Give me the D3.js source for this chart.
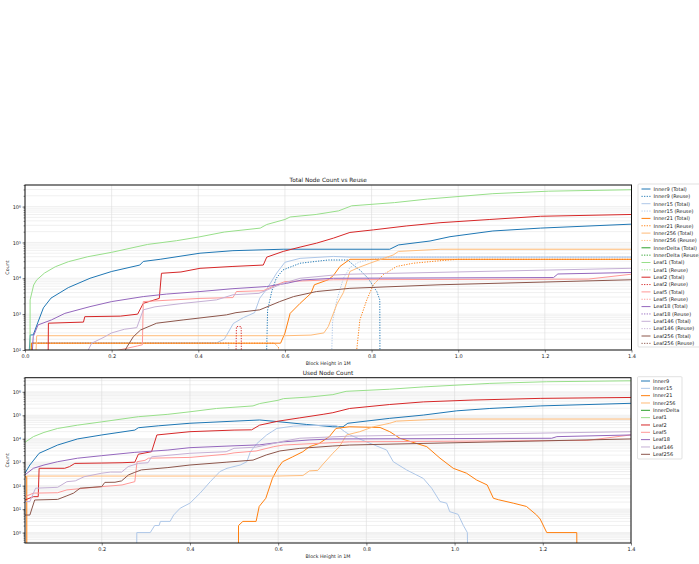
<!DOCTYPE html>
<html>
<head>
<meta charset="utf-8">
<script src="https://cdn.jsdelivr.net/npm/d3@7"></script>
<style>
body { margin: 0; background: #fff; }
text { font-family: "DejaVu Sans", sans-serif; fill: #222; }
</style>
</head>
<body>
<svg id="chart" width="699" height="564"></svg>
<script>
/*=================
=== The data
=================*/
var names = ['Inner9', 'Inner15', 'Inner21', 'Inner256', 'InnerDelta', 'Leaf1', 'Leaf2', 'Leaf5', 'Leaf18', 'Leaf146', 'Leaf256'];
var colors = ['#1f77b4', '#aec7e8', '#ff7f0e', '#ffbb78', '#2ca02c', '#98df8a', '#d62728', '#ff9896', '#9467bd', '#c5b0d5', '#8c564b'];

var topXTicks = [0, 0.2, 0.4, 0.6, 0.8, 1.0, 1.2, 1.4];
var bottomXTicks = [0.2, 0.4, 0.6, 0.8, 1.0, 1.2, 1.4];
var topYTicks = [1e2, 1e3, 1e4, 1e5, 1e6];
var bottomYTicks = [1e0, 1e1, 1e2, 1e3, 1e4, 1e5, 1e6];

// [block height in 1M, count]  -- top chart, totals
var inner9Total = [[0.005,10],[0.012,263],[0.019,263],[0.03,600],[0.0425,1500],[0.06,2800],[0.1,5500],[0.15,10000],[0.2,15500],[0.265,23400],[0.273,29500],[0.312,33900],[0.404,50100],[0.48,58900],[0.596,64600],[0.842,64600],[0.862,85100],[0.935,109600],[0.981,144500],[1.08,208900],[1.19,251200],[1.4,323600]];
var inner15Total = [[0.012,10],[0.015,158],[0.442,158],[0.46,200],[0.481,550],[0.504,800],[0.53,1100],[0.542,2800],[0.558,5000],[0.581,14000],[0.6,28000],[0.635,36000],[0.712,40700],[0.75,39000],[1.4,39000]];
var inner21Total = [[0.012,10],[0.015,155],[0.59,155],[0.6,295],[0.612,1050],[0.635,2000],[0.66,3800],[0.668,6600],[0.7,9100],[0.712,12000],[0.727,21400],[0.75,33900],[1.4,33900]];
var inner256Total = [[0.022,10],[0.027,250],[0.6,250],[0.66,260],[0.69,300],[0.70,450],[0.72,1900],[0.735,4000],[0.75,15500],[0.77,20000],[0.796,26300],[0.85,44700],[0.862,56200],[0.96,64600],[1.4,64600]];
var innerDeltaTotal = [];
var leaf1Total = [[0.0115,10],[0.0118,2500],[0.02,6500],[0.027,9000],[0.045,14000],[0.07,21000],[0.1,29000],[0.145,40000],[0.2,53000],[0.283,88000],[0.35,112000],[0.4,141000],[0.46,195000],[0.543,251000],[0.558,316000],[0.6,437000],[0.612,513000],[0.672,603000],[0.724,760000],[0.754,1050000],[0.853,1290000],[0.929,1620000],[1.08,2290000],[1.209,2690000],[1.4,2950000]];
var leaf2Total = [[0.053,10],[0.054,560],[0.135,600],[0.138,850],[0.22,880],[0.26,1000],[0.273,2000],[0.31,2750],[0.315,13800],[0.36,15000],[0.404,19000],[0.48,21400],[0.55,23400],[0.558,38900],[0.596,56200],[0.635,74100],[0.673,95500],[0.712,131800],[0.75,190000],[0.804,224000],[0.88,288000],[0.958,355000],[1.073,437000],[1.19,537000],[1.4,603000]];
var leaf5Total = [[0.02,30],[0.2,90],[0.26,130],[0.271,140],[0.273,2240],[0.404,2750],[0.48,2900],[0.488,4270],[0.55,4500],[0.581,6600],[0.6,8100],[0.712,9100],[1.3,9500],[1.4,13000]];
var leaf18Total = [[0.012,10],[0.019,234],[0.03,500],[0.061,690],[0.092,1050],[0.15,1620],[0.2,2240],[0.273,3090],[0.327,3630],[0.404,4270],[0.48,5130],[0.558,5890],[0.604,7240],[0.64,9000],[0.712,10000],[1.22,10500],[1.23,13200],[1.4,14500]];
var leaf146Total = [[0.104,10],[0.154,155],[0.18,220],[0.2,300],[0.23,380],[0.258,420],[0.273,1320],[0.3,1600],[0.365,2000],[0.442,2500],[0.48,3470],[0.54,3800],[0.596,7240],[0.635,10000],[0.712,12300],[0.75,13000],[1.4,19000]];
var leaf256Total = [[0.19,10],[0.235,120],[0.25,234],[0.267,363],[0.304,560],[0.365,690],[0.465,955],[0.487,1100],[0.542,1320],[0.588,2240],[0.62,3090],[0.673,4270],[0.75,5250],[0.958,6600],[1.4,9100]];

// top chart, reuse
var inner9Reuse = [[0.556,10],[0.56,1300],[0.57,4500],[0.58,10000],[0.595,17000],[0.635,26300],[0.70,32400],[0.745,32400],[0.758,23400],[0.773,17000],[0.792,10000],[0.812,4270],[0.819,2510],[0.8195,10]];
var inner15Reuse = [[0.012,10],[0.015,158],[0.47,158],[0.472,10],[0.706,10],[0.71,630],[0.72,2500],[0.735,10000],[0.75,20000],[0.77,28000],[0.8,34000],[0.85,38900],[1.4,38900]];
var inner21Reuse = [[0.012,10],[0.015,155],[0.575,155],[0.585,120],[0.59,10],[0.757,10],[0.773,690],[0.789,2500],[0.804,6600],[0.827,12600],[0.858,21400],[0.896,26300],[0.958,30900],[1.0,33900],[1.4,33900]];
var inner256Reuse = [];
var innerDeltaReuse = [];
var leaf1Reuse = [];
var leaf2Reuse = [[0.486,10],[0.488,450],[0.499,450],[0.5,10]];
var leaf5Reuse = [];
var leaf18Reuse = [];
var leaf146Reuse = [];
var leaf256Reuse = [];

// bottom chart, used
var inner9Used = [[0.026,340],[0.037,760],[0.058,2400],[0.1,5400],[0.145,9800],[0.2,14500],[0.275,23400],[0.283,29500],[0.328,35500],[0.4,45700],[0.5,56200],[0.558,63100],[0.604,52500],[0.664,40700],[0.724,32400],[0.747,32400],[0.758,45700],[0.853,74100],[0.929,102000],[1.005,155000],[1.08,195000],[1.194,251000],[1.4,324000]];
var inner15Used = [[0.279,0.01],[0.2795,1],[0.31,1],[0.32,2],[0.33,2],[0.333,3],[0.355,3],[0.363,5.6],[0.378,11],[0.4,18],[0.423,48],[0.446,148],[0.468,400],[0.484,550],[0.514,760],[0.529,1050],[0.537,2800],[0.552,6300],[0.574,14500],[0.597,27500],[0.635,34700],[0.71,38000],[0.733,36000],[0.751,20000],[0.763,14500],[0.8,7400],[0.846,3300],[0.861,1050],[0.891,470],[0.929,204],[0.948,78],[0.967,21],[0.982,18],[0.989,7.8],[1.008,6],[1.02,2],[1.029,1],[1.03,0.01]];
var inner21Used = [[0.026,250],[0.03,250],[0.0301,0.01],[0.51,0.01],[0.5101,2],[0.52,3],[0.55,3],[0.557,13],[0.572,29],[0.587,204],[0.599,550],[0.61,1050],[0.633,1700],[0.656,2800],[0.671,4600],[0.693,6300],[0.716,12300],[0.731,27500],[0.761,32400],[0.831,30200],[0.853,20000],[0.876,10500],[0.937,4600],[0.967,1480],[0.997,550],[1.027,340],[1.05,174],[1.074,107],[1.088,29],[1.1,25],[1.133,18],[1.163,13],[1.186,5.6],[1.194,3.8],[1.209,1],[1.277,1],[1.278,0.01]];
var inner256Used = [[0.026,204],[0.03,257],[0.596,257],[0.656,270],[0.671,427],[0.69,450],[0.70,760],[0.724,2400],[0.739,4600],[0.755,14500],[0.785,20000],[0.816,32400],[0.853,45700],[0.868,56200],[0.967,69200],[1.4,69200]];
var innerDeltaUsed = [];
var leaf1Used = [[0.026,7080],[0.045,12300],[0.069,18600],[0.1,27500],[0.145,38000],[0.2,52500],[0.283,87100],[0.35,110000],[0.4,141000],[0.46,195000],[0.543,251000],[0.558,316000],[0.6,437000],[0.612,513000],[0.672,603000],[0.724,759000],[0.754,1050000],[0.853,1290000],[0.929,1620000],[1.08,2290000],[1.209,2690000],[1.4,2950000]];
var leaf2Used = [[0.026,24.5],[0.045,34],[0.056,34],[0.058,550],[0.116,550],[0.127,650],[0.139,890],[0.2,920],[0.246,950],[0.275,1000],[0.283,2190],[0.313,2800],[0.325,14500],[0.4,20000],[0.5,23400],[0.54,24000],[0.558,38000],[0.6,56200],[0.649,77600],[0.702,110000],[0.724,129000],[0.762,195000],[0.853,288000],[0.929,372000],[1.042,447000],[1.194,525000],[1.4,575000]];
var leaf5Used = [[0.026,34],[0.045,48],[0.1,50],[0.121,66],[0.2,91],[0.246,107],[0.275,148],[0.28,1050],[0.298,1200],[0.306,1480],[0.4,1600],[0.482,2190],[0.5,2500],[0.55,3000],[0.59,4600],[0.612,5400],[0.762,7400],[1.3,8500],[1.4,14500]];
var leaf18Used = [[0.026,290],[0.045,550],[0.069,760],[0.1,1050],[0.145,1480],[0.2,1900],[0.275,2630],[0.35,3300],[0.4,4170],[0.5,5000],[0.558,5500],[0.612,7400],[0.672,8900],[0.724,9800],[1.22,10500],[1.232,12300],[1.4,14500]];
var leaf146Used = [[0.026,21],[0.037,21],[0.05,78],[0.1,85],[0.121,148],[0.14,160],[0.16,240],[0.2,340],[0.22,380],[0.245,380],[0.26,650],[0.283,890],[0.305,950],[0.313,1700],[0.4,2400],[0.482,2800],[0.5,3900],[0.55,4400],[0.59,6300],[0.612,7900],[0.649,10500],[0.762,12900],[1.4,20000]];
var leaf256Used = [[0.026,5.6],[0.037,5.6],[0.048,24.5],[0.1,26],[0.121,37],[0.136,48],[0.151,78],[0.2,91],[0.207,138],[0.23,140],[0.245,160],[0.261,290],[0.275,370],[0.29,470],[0.35,590],[0.4,760],[0.482,1000],[0.543,1230],[0.573,2040],[0.604,3020],[0.649,3890],[0.724,4900],[0.762,5400],[1.4,9800]];

var totals = [inner9Total, inner15Total, inner21Total, inner256Total, innerDeltaTotal, leaf1Total, leaf2Total, leaf5Total, leaf18Total, leaf146Total, leaf256Total];
var reuses = [inner9Reuse, inner15Reuse, inner21Reuse, inner256Reuse, innerDeltaReuse, leaf1Reuse, leaf2Reuse, leaf5Reuse, leaf18Reuse, leaf146Reuse, leaf256Reuse];
var useds = [inner9Used, inner15Used, inner21Used, inner256Used, innerDeltaUsed, leaf1Used, leaf2Used, leaf5Used, leaf18Used, leaf146Used, leaf256Used];

/*=================
=== The vars
=================*/
var svg = d3.select('#chart');
var DOTS = '1.2,1.4';
var sup = { '0': '\u2070', '1': '\u00b9', '2': '\u00b2', '3': '\u00b3', '4': '\u2074', '5': '\u2075', '6': '\u2076' };

function drawPanel(cfg) {
	var x = cfg.x, y = cfg.y;
	var L = x.range()[0], R = x.range()[1];
	var B = y.range()[0], T = y.range()[1];
	var g = svg.append('g');

	g.append('clipPath').attr('id', cfg.id)
		.append('rect').attr('x', L).attr('y', T).attr('width', R - L).attr('height', B - T);

	// minor log grid
	var minors = [];
	var lo = Math.floor(Math.log10(y.domain()[0])), hi = Math.ceil(Math.log10(y.domain()[1]));
	for (var k = lo; k <= hi; k++) {
		for (var m = 1; m <= 9; m++) {
			var v = m * Math.pow(10, k);
			if (v >= y.domain()[0] && v <= y.domain()[1]) minors.push(v);
		}
	}
	g.append('g').selectAll('line').data(minors).join('line')
		.attr('x1', L).attr('x2', R)
		.attr('y1', function (d) { return y(d); }).attr('y2', function (d) { return y(d); })
		.attr('stroke', '#e6e6e6').attr('stroke-width', 0.6);

	g.append('g').selectAll('line').data(cfg.xTicks).join('line')
		.attr('x1', function (d) { return x(d); }).attr('x2', function (d) { return x(d); })
		.attr('y1', T).attr('y2', B)
		.attr('stroke', '#dcdcdc').attr('stroke-width', 0.6);

	var line = d3.line()
		.x(function (d) { return x(d[0]); })
		.y(function (d) { return y(Math.max(d[1], 1e-3)); });

	var plot = g.append('g').attr('clip-path', 'url(#' + cfg.id + ')');
	cfg.series.forEach(function (s) {
		if (!s.data.length) return;
		plot.append('path')
			.datum(s.data)
			.attr('d', line)
			.attr('fill', 'none')
			.attr('stroke', s.color)
			.attr('stroke-width', 1)
			.attr('stroke-dasharray', s.dash ? DOTS : null);
	});

	// axes
	var xAxis = g.append('g').attr('transform', 'translate(0,' + B + ')')
		.call(d3.axisBottom(x).tickValues(cfg.xTicks).tickFormat(d3.format('.1f')).tickSize(2.5).tickPadding(1.5));
	var yMinor = g.append('g').attr('transform', 'translate(' + L + ',0)')
		.call(d3.axisLeft(y).tickValues(minors).tickFormat('').tickSize(1.4));
	var yAxis = g.append('g').attr('transform', 'translate(' + L + ',0)')
		.call(d3.axisLeft(y).tickValues(cfg.yTicks).tickSize(2.5).tickPadding(1.5)
			.tickFormat(function (d) { return '10' + sup[String(Math.round(Math.log10(d)))]; }));
	[xAxis, yMinor, yAxis].forEach(function (a) {
		a.select('.domain').remove();
		a.selectAll('line').attr('stroke', '#333').attr('stroke-width', 0.6);
		a.selectAll('text').attr('font-size', 5).attr('fill', '#333').style('font-family', 'DejaVu Sans');
	});

	g.append('rect').attr('x', L).attr('y', T).attr('width', R - L).attr('height', B - T)
		.attr('fill', 'none').attr('stroke', '#111').attr('stroke-width', 1);

	g.append('text').attr('x', (L + R) / 2).attr('y', T - 3).attr('text-anchor', 'middle')
		.attr('font-size', 5.8).text(cfg.title);
	g.append('text').attr('x', (L + R) / 2).attr('y', B + 15).attr('text-anchor', 'middle')
		.attr('font-size', 4.8).text('Block Height in 1M');
	g.append('text').attr('transform', 'translate(9,' + ((T + B) / 2) + ') rotate(-90)')
		.attr('text-anchor', 'middle').attr('font-size', 4.8).text('Count');

	// legend
	var lg = g.append('g');
	lg.append('rect').attr('x', cfg.legend.x).attr('y', cfg.legend.y)
		.attr('width', cfg.legend.w).attr('height', cfg.legend.h)
		.attr('fill', '#fff').attr('stroke', '#cfcfcf').attr('stroke-width', 0.6).attr('rx', 1);
	cfg.legendItems.forEach(function (it, i) {
		var yy = cfg.legend.y0 + i * cfg.legend.step;
		lg.append('line').attr('x1', cfg.legend.x + 3.5).attr('x2', cfg.legend.x + 12.5)
			.attr('y1', yy).attr('y2', yy)
			.attr('stroke', it.color).attr('stroke-width', 1)
			.attr('stroke-dasharray', it.dash ? DOTS : null);
		lg.append('text').attr('x', cfg.legend.x + 15.5).attr('y', yy + 1.8)
			.attr('font-size', 5).attr('fill', '#333').text(it.label);
	});
}

/*=================
=== Top: Total vs Reuse
=================*/
var topSeries = [], topLegend = [];
names.forEach(function (n, i) {
	topSeries.push({ data: totals[i], color: colors[i], dash: false });
	topSeries.push({ data: reuses[i], color: colors[i], dash: true });
	topLegend.push({ label: n + ' (Total)', color: colors[i], dash: false });
	topLegend.push({ label: n + ' (Reuse)', color: colors[i], dash: true });
});

drawPanel({
	id: 'clipTop',
	x: d3.scaleLinear().domain([0, 1.4]).range([25, 631.5]),
	y: d3.scaleLog().domain([100, 4e6]).range([350, 185]),
	xTicks: topXTicks,
	yTicks: topYTicks,
	title: 'Total Node Count vs Reuse',
	series: topSeries,
	legendItems: topLegend,
	legend: { x: 638, y: 184, w: 70, h: 163, y0: 189, step: 7.35 }
});

/*=================
=== Bottom: Used
=================*/
var bottomSeries = [], bottomLegend = [];
names.forEach(function (n, i) {
	bottomSeries.push({ data: useds[i], color: colors[i], dash: false });
	bottomLegend.push({ label: n, color: colors[i], dash: false });
});

drawPanel({
	id: 'clipBottom',
	x: d3.scaleLinear().domain([0.026, 1.4]).range([25, 631]),
	y: d3.scaleLog().domain([0.36, 4e6]).range([543, 377.7]),
	xTicks: bottomXTicks,
	yTicks: bottomYTicks,
	title: 'Used Node Count',
	series: bottomSeries,
	legendItems: bottomLegend,
	legend: { x: 637.5, y: 376.7, w: 44.5, h: 82.3, y0: 381, step: 7.33 }
});
</script>
</body>
</html>
